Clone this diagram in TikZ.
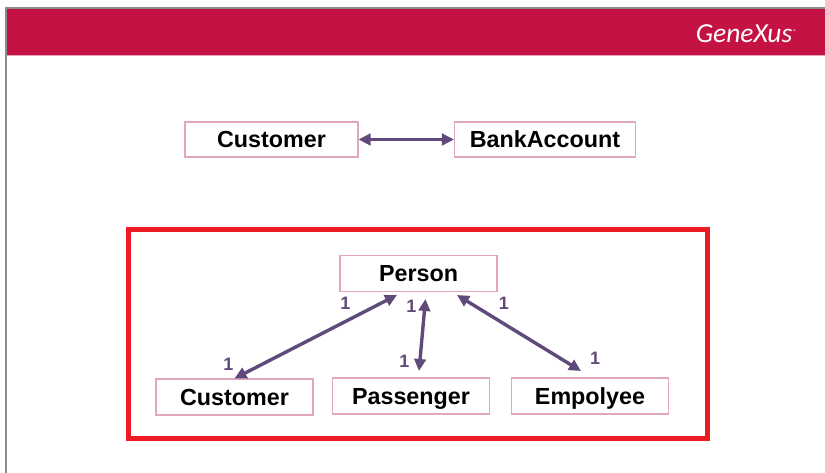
\documentclass[tikz,border=0pt]{standalone}
\usepackage{fontspec}
\setmainfont{Liberation Sans}
\newfontfamily\logofont{Carlito}
\usetikzlibrary{arrows.meta}
\definecolor{headerred}{HTML}{C41243}
\definecolor{framered}{HTML}{ED1C24}
\definecolor{linkpurple}{HTML}{604A7B}
\definecolor{boxpink}{HTML}{E2A6BE}
\definecolor{edgegray}{HTML}{8C8C8C}
\begin{document}
\begin{tikzpicture}[
      x=1pt, y=-1pt,
      entity/.style={draw=boxpink, line width=1.1pt, fill=white, inner sep=0pt, anchor=center,
        text height=16.7pt, text depth=0.7pt,
        font=\fontsize{23.3}{28}\selectfont\bfseries, text=black},
      link/.style={draw=linkpurple, line width=3.4pt, {Triangle[length=12pt,width=11.5pt]}-{Triangle[length=12pt,width=11.5pt]}},
      card/.style={text=linkpurple, inner sep=0pt, font=\fontsize{18}{20}\selectfont\bfseries},
    ]
      \useasboundingbox (0,0) rectangle (825,473);
      \fill[headerred] (6,8) rectangle (825,55);
      \draw[edgegray, line width=2pt] (6,473) -- (6,8) -- (825,8);
      \draw[boxpink, line width=1pt] (7,55.5) -- (825,55.5);
      \node[text=white, inner sep=0pt, anchor=east, font=\logofont\fontsize{27.5}{30}\selectfont\itshape] (logo) at (796,34)
        {GeneXus\raisebox{9pt}{\fontsize{5}{6}\selectfont ™}};

      \node[entity, minimum width=173pt, minimum height=35pt] (customer) at (271.5,139.5) {Customer};
      \node[entity, minimum width=181pt, minimum height=35pt] (account) at (545,139.5) {BankAccount};
      \draw[link] (customer) -- (account);

      \draw[framered, line width=5pt] (128.5,229.5) rectangle (707.5,438);

      \node[entity, minimum width=157pt, minimum height=36pt] (person) at (418.5,273.5) {Person};
      \node[entity, minimum width=157pt, minimum height=36pt] (buyer) at (234.5,397) {Customer};
      \node[entity, minimum width=157pt, minimum height=36pt] (passenger) at (411,396) {Passenger};
      \node[entity, minimum width=157pt, minimum height=36pt] (employee) at (590,396) {Empolyee};

      \coordinate (persona) at (397,295);
      \coordinate (personb) at (425.5,299);
      \coordinate (personc) at (457,295);
      \coordinate (passengertop) at (419,371);
      \coordinate (employeetop) at (581,371);

      \draw[link] (persona) -- (buyer.north);
      \draw[link] (personb) -- (passengertop);
      \draw[link] (personc) -- (employeetop);

      \node[card] (carda) at (345.5,303) {1};
      \node[card] (cardb) at (228.5,364.5) {1};
      \node[card] (cardc) at (411.5,306.5) {1};
      \node[card] (cardd) at (404.5,361) {1};
      \node[card] (carde) at (504,303) {1};
      \node[card] (cardf) at (595,358) {1};
    \end{tikzpicture}
\end{document}
